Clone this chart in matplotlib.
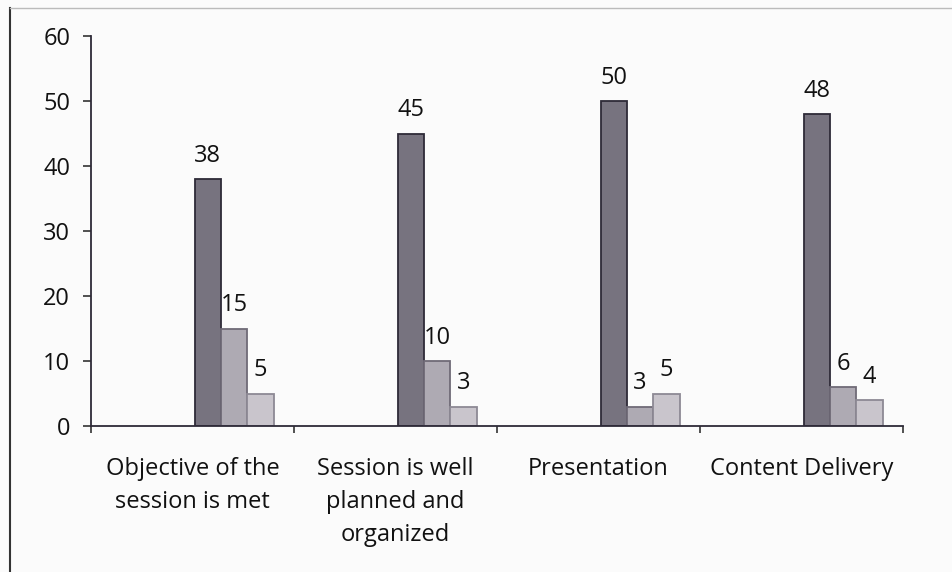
import matplotlib.pyplot as plt
import numpy as np

categories = ['Objective of the\nsession is met', 'Session is well\nplanned and\norganized',
              'Presentation', 'Content Delivery']
series_a = [38, 45, 50, 48]
series_b = [15, 10, 3, 6]
series_c = [5, 3, 5, 4]

plt.rcParams['font.family'] = ['Open Sans', 'DejaVu Sans']

fig = plt.figure(figsize=(9.52, 5.72), dpi=100, facecolor='#fbfbfb')
ax = fig.add_axes([91/952, 1-426/572, (903-91)/952, (426-36)/572])
ax.set_facecolor('#fbfbfb')

x = np.arange(len(categories))
w = 0.13
offs = [0.075, 0.205, 0.335]
cols = ['#77737f', '#aeaab3', '#c9c5cc']
edges = ['#2e2a38', '#6f6a77', '#8d8994']
for vals, off, c, e in zip([series_a, series_b, series_c], offs, cols, edges):
    bars = ax.bar(x + off, vals, width=w, color=c, edgecolor=e, linewidth=1.3)
    for b, v in zip(bars, vals):
        ax.annotate(str(v), (b.get_x() + b.get_width()/2, v), xytext=(0, 8),
                    textcoords='offset points', ha='center', va='bottom', fontsize=17,
                    color='#111')

ax.set_xlim(-0.5, 3.5)
ax.set_ylim(0, 60)
ax.set_yticks(range(0, 61, 10))
ax.tick_params(axis='y', labelsize=17, length=6, width=1.2, color='#333', pad=9,
               labelcolor='#111')
ax.set_xticks(np.arange(-0.5, 3.6, 1))
ax.set_xticklabels([])
ax.tick_params(axis='x', which='major', length=5, width=1.2, color='#333')
ax.set_xticks(x, minor=True)
ax.set_xticklabels(categories, minor=True, fontsize=17, linespacing=1.5, va='top',
                   color='#111')
ax.tick_params(axis='x', which='minor', length=0, pad=22)

for s in ['top', 'right']:
    ax.spines[s].set_visible(False)
for s in ['left', 'bottom']:
    ax.spines[s].set_color('#2e2a38')
    ax.spines[s].set_linewidth(1.3)

# scanned page frame
fig.add_artist(plt.Line2D([10/952, 10/952], [0, 1-8/572], color='#333', lw=1.5))
fig.add_artist(plt.Line2D([10/952, 1], [1-8/572, 1-8/572], color='#bbb', lw=1.0))

fig.savefig('out.png', dpi=100, facecolor=fig.get_facecolor())
